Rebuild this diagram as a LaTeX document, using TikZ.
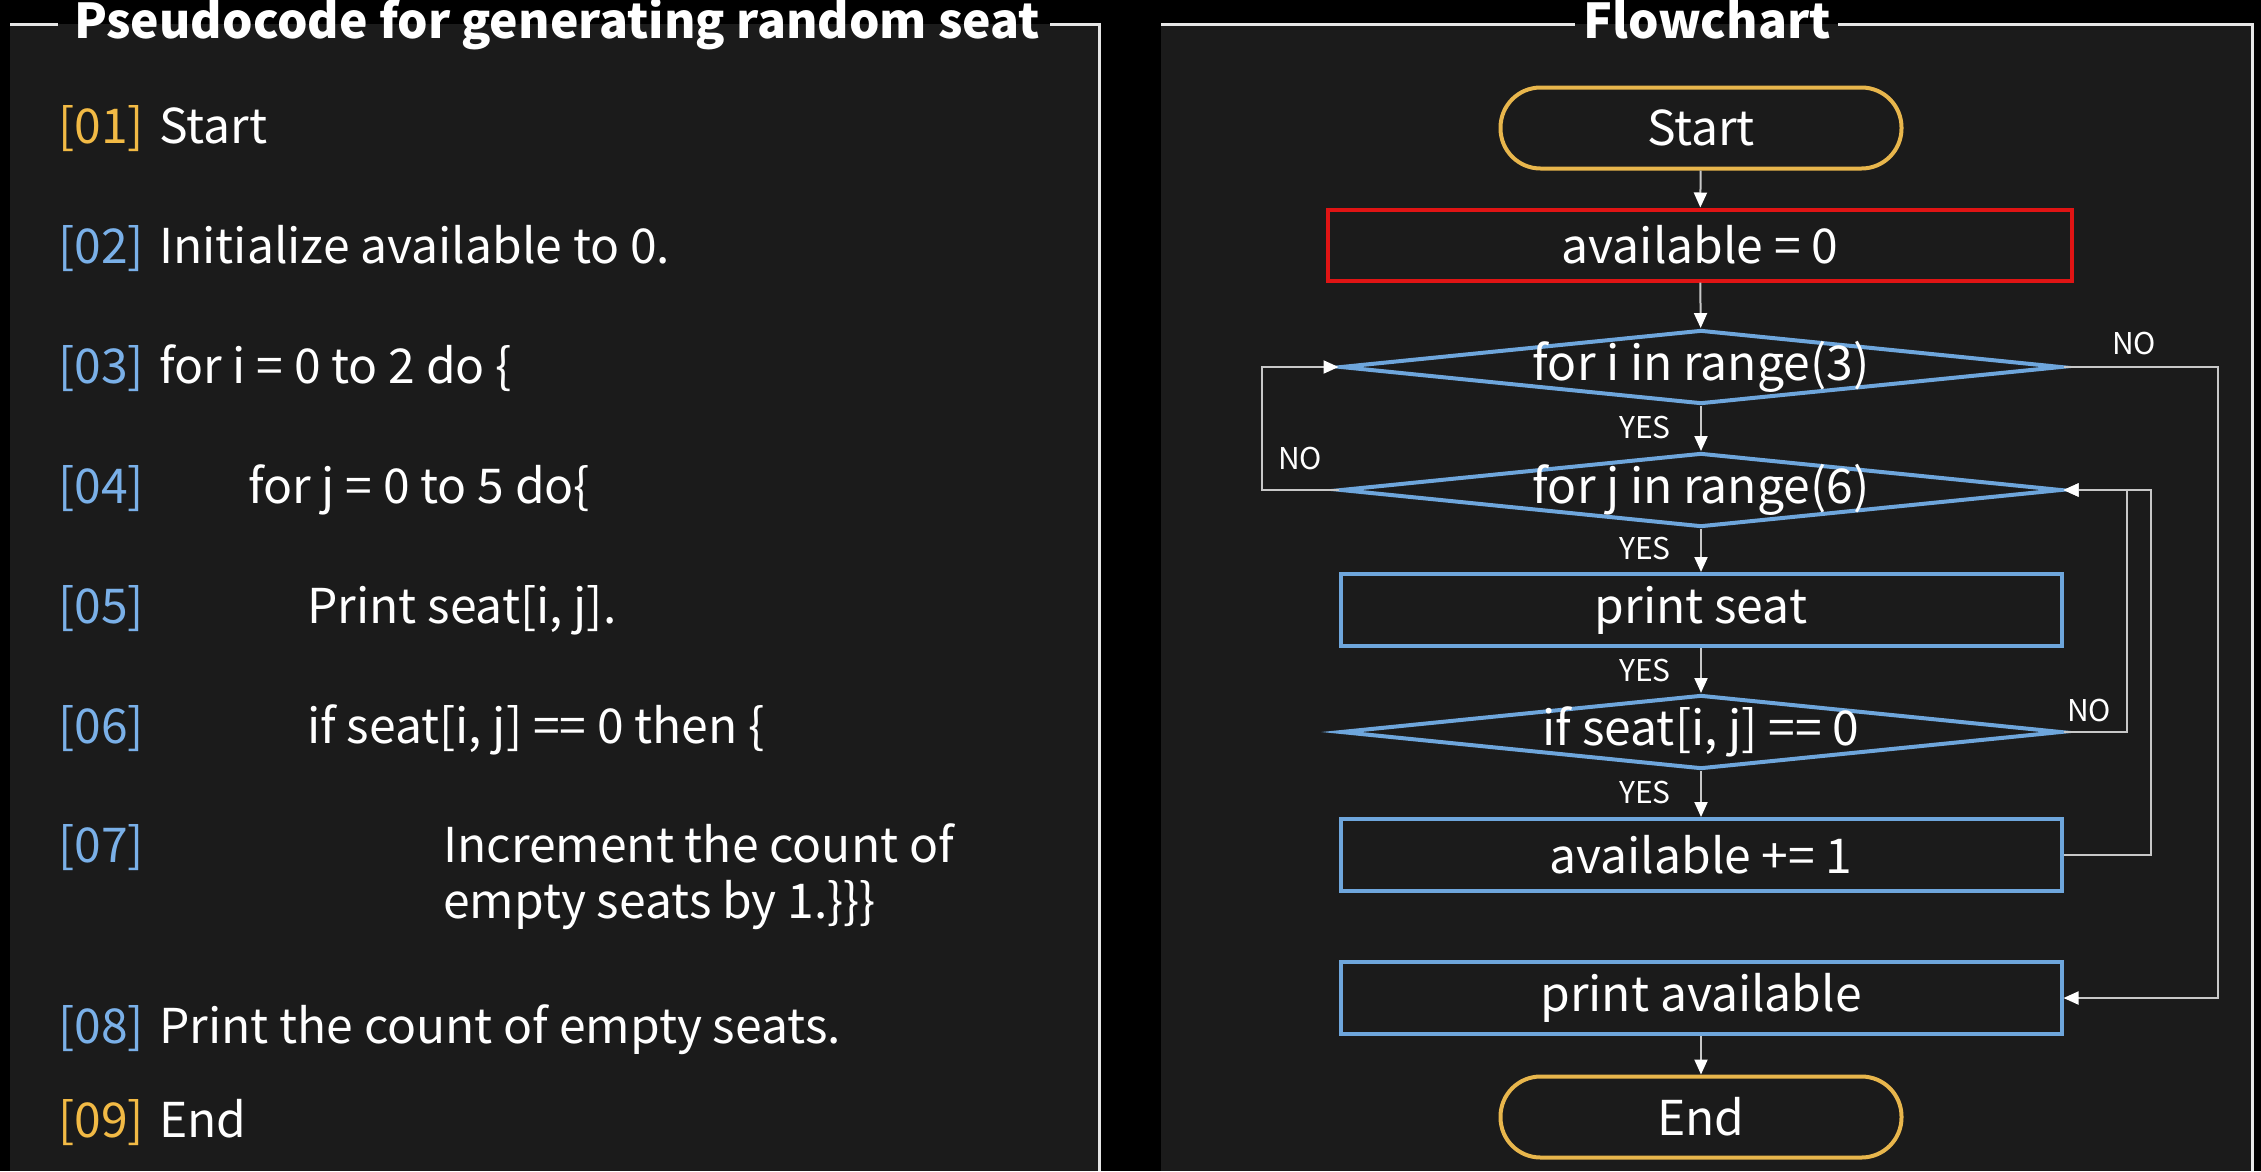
\documentclass[tikz,border=0pt]{standalone}
\usepackage{fontspec}
\setmainfont{Noto Sans CJK SC}
\usetikzlibrary{arrows.meta,shapes.geometric}
\definecolor{panel}{HTML}{1B1B1B}
\definecolor{framec}{HTML}{E6E6E6}
\definecolor{gold}{HTML}{E8B64C}
\definecolor{numgold}{HTML}{F2BA45}
\definecolor{flowblue}{HTML}{6EA6DC}
\definecolor{numblue}{HTML}{7AB0E8}
\definecolor{redc}{HTML}{E01414}
\definecolor{connc}{HTML}{C8C8C8}
\tikzset{
  txt/.style={text=white, inner sep=0pt, font=\fontsize{48}{58}\selectfont},
  ttl/.style={text=white, inner sep=0pt, font=\fontsize{48}{58}\selectfont\bfseries},
  small/.style={text=white, inner sep=0pt, font=\fontsize{30}{34}\selectfont},
  numg/.style={text=numgold, inner sep=0pt, font=\fontsize{48}{58}\selectfont},
  numb/.style={text=numblue, inner sep=0pt, font=\fontsize{48}{58}\selectfont},
  proc/.style={draw=flowblue, line width=4pt, fill=panel, minimum width=721pt, minimum height=72pt, inner sep=0pt, text=white, font=\fontsize{48}{58}\selectfont},
  dec/.style={diamond, draw=flowblue, line width=4pt, fill=panel, minimum width=721pt, minimum height=74pt, inner sep=0pt},
  term/.style={draw=gold, line width=4pt, fill=panel, rounded corners=40pt, minimum width=401pt, minimum height=81pt, inner sep=0pt, text=white, font=\fontsize{48}{58}\selectfont},
  frame/.style={draw=framec, line width=3pt},
  conn/.style={draw=connc, line width=2pt},
  arr/.style={conn, -{Triangle[length=15pt,width=13pt,fill=white,color=white]}}
}
\begin{document}
\begin{tikzpicture}[x=1pt,y=-1pt]
\fill[black] (0,0) rectangle (2261,1171);
\useasboundingbox (0,0) rectangle (2261,1171);
% panels
\fill[panel] (10,24) rectangle (1099,1171);
\fill[panel] (1161,24) rectangle (2252,1171);
\draw[frame] (10,24) -- (58,24);
\draw[frame] (1050,24) -- (1099,24) -- (1099,1171);
\draw[frame] (1161,24) -- (1575,24);
\draw[frame] (1838,24) -- (2252,24) -- (2252,1171);
\node[ttl, anchor=base] (t1) at (557,38) {Pseudocode for generating random seat};
\node[ttl, anchor=base] (t2) at (1707,38) {Flowchart};
% pseudocode
\node[numg, anchor=base west] (n1) at (58,143) {[01]};
\node[txt, anchor=base west] (c1) at (159,143) {Start};
\node[numb, anchor=base west] (n2) at (58,263) {[02]};
\node[txt, anchor=base west] (c2) at (159,263) {Initialize available to 0.};
\node[numb, anchor=base west] (n3) at (58,383) {[03]};
\node[txt, anchor=base west] (c3) at (159,383) {for i = 0 to 2 do \{};
\node[numb, anchor=base west] (n4) at (58,503) {[04]};
\node[txt, anchor=base west] (c4) at (248,503) {for j = 0 to 5 do\{};
\node[numb, anchor=base west] (n5) at (58,623) {[05]};
\node[txt, anchor=base west] (c5) at (307,623) {Print seat[i, j].};
\node[numb, anchor=base west] (n6) at (58,743) {[06]};
\node[txt, anchor=base west] (c6) at (307,743) {if seat[i, j] == 0 then \{};
\node[numb, anchor=base west] (n7) at (58,862) {[07]};
\node[txt, anchor=base west] (c7) at (443,862) {Increment the count of};
\node[txt, anchor=base west] (c7b) at (443,918) {empty seats by 1.\}\}\}};
\node[numb, anchor=base west] (n8) at (58,1043) {[08]};
\node[txt, anchor=base west] (c8) at (159,1043) {Print the count of empty seats.};
\node[numg, anchor=base west] (n9) at (58,1137) {[09]};
\node[txt, anchor=base west] (c9) at (159,1137) {End};
% flowchart
\node[term] (start) at (1701,128) {Start};
\node[proc, draw=redc, minimum width=744pt, minimum height=71pt] (avail) at (1700,245) {available = 0};
\node[dec] (fori) at (1701,367) {};
\node[txt] (forit) at (1701,367) {for i in range(3)};
\node[dec] (forj) at (1701,490) {};
\node[txt] (forjt) at (1701,490) {for j in range(6)};
\node[proc] (pseat) at (1701,610) {print seat};
\node[dec] (ifs) at (1701,732) {};
\node[txt] (ifst) at (1701,732) {if seat[i, j] == 0};
\node[proc] (inc) at (1701,855) {available += 1};
\node[proc] (pav) at (1701,998) {print available};
\node[term] (end) at (1701,1117) {End};
\coordinate (lx) at (1262,0);
\coordinate (rx) at (2218,0);
\coordinate (ix) at (2127,0);
\coordinate (ox) at (2151,0);
\draw[arr] (start) -- (avail);
\draw[arr] (avail) -- (fori);
\draw[arr] (fori) -- (forj);
\draw[arr] (forj) -- (pseat);
\draw[arr] (pseat) -- (ifs);
\draw[arr] (ifs) -- (inc);
\draw[arr] (pav) -- (end);
\draw[arr] (forj.west) -- (forj.west -| lx) |- (fori.west);
\draw[arr] (fori.east) -- (fori.east -| rx) |- (pav.east);
\draw[arr] (ifs.east) -- (ifs.east -| ix) |- (forj.east);
\draw[arr] (inc.east) -- (inc.east -| ox) |- (forj.east);
\node[small] (y1) at (1645,427) {YES};
\node[small] (y2) at (1645,548) {YES};
\node[small] (y3) at (1645,670) {YES};
\node[small] (y4) at (1645,792) {YES};
\node[small] (no1) at (2134,343) {NO};
\node[small] (no2) at (1300,458) {NO};
\node[small] (no3) at (2089,710) {NO};
\end{tikzpicture}
\end{document}
